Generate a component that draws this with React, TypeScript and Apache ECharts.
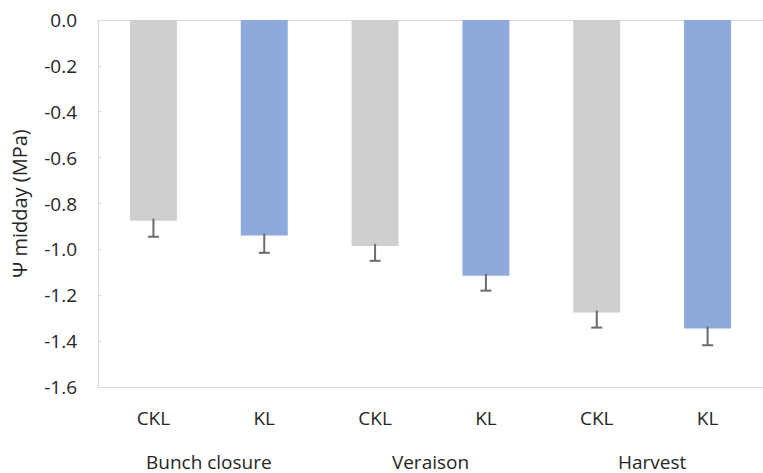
import React, { useEffect, useRef } from "react";
import * as echarts from "echarts";

const treatments = ["CKL", "KL", "CKL", "KL", "CKL", "KL"];
const stages = ["Bunch closure", "Veraison", "Harvest"];
const psiMidday = [-0.875, -0.94, -0.985, -1.115, -1.275, -1.345];
const errors = [0.07, 0.075, 0.065, 0.065, 0.066, 0.073];
const barColors = ["#d0cece", "#8eaadb", "#d0cece", "#8eaadb", "#d0cece", "#8eaadb"];
const yTicks = { min: -1.6, max: 0, interval: 0.2 };

const FONT = "'Open Sans', 'Noto Sans', sans-serif";
const TEXT = "#262626";
const AXIS = "#d9d9d9";

export default function App() {
  const ref = useRef<HTMLDivElement>(null);
  useEffect(() => {
    if (!ref.current) return;
    const chart = echarts.init(ref.current, undefined, { renderer: "svg" });
    chart.setOption({
      animation: false,
      backgroundColor: "#ffffff",
      grid: { left: 98, top: 20, width: 675, height: 367, containLabel: false },
      xAxis: [
        {
          type: "category",
          data: treatments,
          position: "bottom",
          axisLine: { show: true, onZero: false, lineStyle: { color: AXIS, width: 1 } },
          axisTick: { show: false },
          axisLabel: { color: TEXT, fontSize: 19, fontFamily: FONT, margin: 21 },
        },
        {
          type: "category",
          data: stages,
          position: "bottom",
          axisLine: { show: false },
          axisTick: { show: false },
          axisLabel: { color: TEXT, fontSize: 19, fontFamily: FONT, margin: 65 },
        },
        {
          type: "category",
          data: treatments,
          position: "top",
          axisLine: { show: true, onZero: false, lineStyle: { color: AXIS, width: 1 } },
          axisTick: { show: false },
          axisLabel: { show: false },
        },
      ],
      yAxis: {
        type: "value",
        min: yTicks.min,
        max: yTicks.max,
        interval: yTicks.interval,
        name: "Ψ midday (MPa)",
        nameLocation: "middle",
        nameGap: 69,
        nameTextStyle: { color: TEXT, fontSize: 20, fontFamily: FONT, fontWeight: "normal" },
        axisLine: { show: true, lineStyle: { color: AXIS, width: 1 } },
        axisTick: { show: true, inside: true, length: 4, lineStyle: { color: AXIS } },
        splitLine: { show: false },
        axisLabel: {
          color: TEXT,
          fontSize: 19,
          fontFamily: FONT,
          margin: 21,
          formatter: (v: number) => v.toFixed(1),
        },
      },
      series: [
        {
          type: "bar",
          xAxisIndex: 0,
          barWidth: 47,
          data: psiMidday.map((v, i) => ({ value: v, itemStyle: { color: barColors[i] } })),
        },
        {
          type: "custom",
          xAxisIndex: 0,
          data: psiMidday.map((v, i) => [i, v, errors[i]]),
          renderItem: (params: any, api: any) => {
            const idx = api.value(0);
            const v = api.value(1);
            const e = api.value(2);
            const top = api.coord([idx, v]);
            const bot = api.coord([idx, v - e]);
            const style = { stroke: "#6b6b6b", lineWidth: 2 };
            return {
              type: "group",
              children: [
                { type: "line", shape: { x1: top[0], y1: top[1] - 2, x2: bot[0], y2: bot[1] }, style },
                { type: "line", shape: { x1: bot[0] - 5.5, y1: bot[1], x2: bot[0] + 5.5, y2: bot[1] }, style },
              ],
            };
          },
          z: 5,
        },
      ],
    });
    return () => chart.dispose();
  }, []);
  return (
    <div
      ref={ref}
      style={{ position: "fixed", left: 0, top: 0, width: 763, height: 473 }}
    />
  );
}
